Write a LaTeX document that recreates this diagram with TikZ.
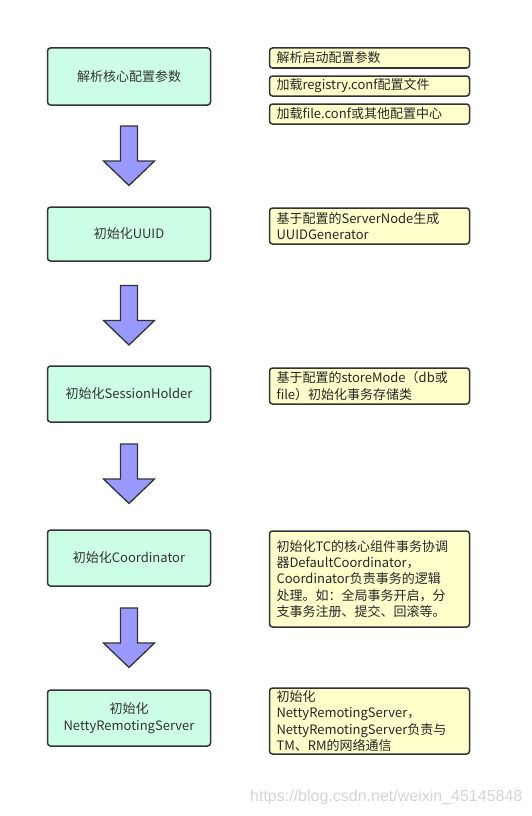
\documentclass[tikz,border=0pt]{standalone}
\usepackage{fontspec}
\setmainfont{Noto Sans CJK SC}
\newfontfamily\wmfont{Liberation Sans}
\definecolor{bordc}{HTML}{333333}
\definecolor{greenf}{HTML}{CCFFE6}
\definecolor{yellowf}{HTML}{FFFFCC}
\definecolor{arrowf}{HTML}{9999FF}
\begin{document}
\begin{tikzpicture}[x=1pt,y=-1pt,
  stepbox/.style={draw=bordc, line width=1.5pt, rounded corners=3pt, fill=greenf,
    minimum width=163pt, minimum height=57pt, inner sep=2pt, align=center,
    text=bordc, font=\fontsize{13}{16.5}\selectfont},
  notebox/.style={draw=bordc, line width=1.5pt, rounded corners=3pt, fill=yellowf,
    text width=186pt, inner xsep=7pt, inner ysep=2pt, align=left,
    text=black!85, font=\fontsize{13}{16.3}\selectfont},
  blockarrow/.style={draw=bordc, line width=1.3pt, fill=arrowf, line join=miter}]
\useasboundingbox (0,0) rectangle (531,816);
% left boxes
\node[stepbox] (s1) at (129,76.5) {解析核心配置参数};
\node[stepbox, minimum height=54pt] (s2) at (129,234) {初始化UUID};
\node[stepbox, minimum height=56pt] (s3) at (129,394) {初始化SessionHolder};
\node[stepbox, minimum height=56pt] (s4) at (129,558) {初始化Coordinator};
\node[stepbox, minimum height=56pt] (s5) at (129,718) {初始化\\NettyRemotingServer};
% right notes
\node[notebox, minimum height=20pt] (n1a) at (369.5,58) {解析启动配置参数};
\node[notebox, minimum height=20pt] (n1b) at (369.5,86) {加载registry.conf配置文件};
\node[notebox, minimum height=20pt] (n1c) at (369.5,114) {加载file.conf或其他配置中心};
\node[notebox, minimum height=36pt] (n2) at (369.5,226) {基于配置的ServerNode生成\\UUIDGenerator};
\node[notebox, minimum height=36pt] (n3) at (369.5,386) {基于配置的storeMode（db或\\file）初始化事务存储类};
\node[notebox, minimum height=96pt] (n4) at (369.5,579) {初始化TC的核心组件事务协调\\器DefaultCoordinator，\\Coordinator负责事务的逻辑\\处理。如：全局事务开启，分\\支事务注册、提交、回滚等。};
\node[notebox, minimum height=66pt] (n5) at (369.5,721) {初始化\\NettyRemotingServer，\\NettyRemotingServer负责与\\TM、RM的网络通信};
% block arrows
\foreach \t in {126,285.5,444,608}{
  \draw[blockarrow] (120.5,\t) -- (137.5,\t) -- (137.5,\t+35) -- (154.5,\t+35)
    -- (129,\t+59.5) -- (103.5,\t+35) -- (120.5,\t+35) -- cycle;
}
% watermark
\node[anchor=west, inner sep=0pt, text=black!17, font=\wmfont\fontsize{16}{18}\selectfont] (wm) at (250,797) {https://blog.csdn.net/weixin\_45145848};
\end{tikzpicture}
\end{document}
